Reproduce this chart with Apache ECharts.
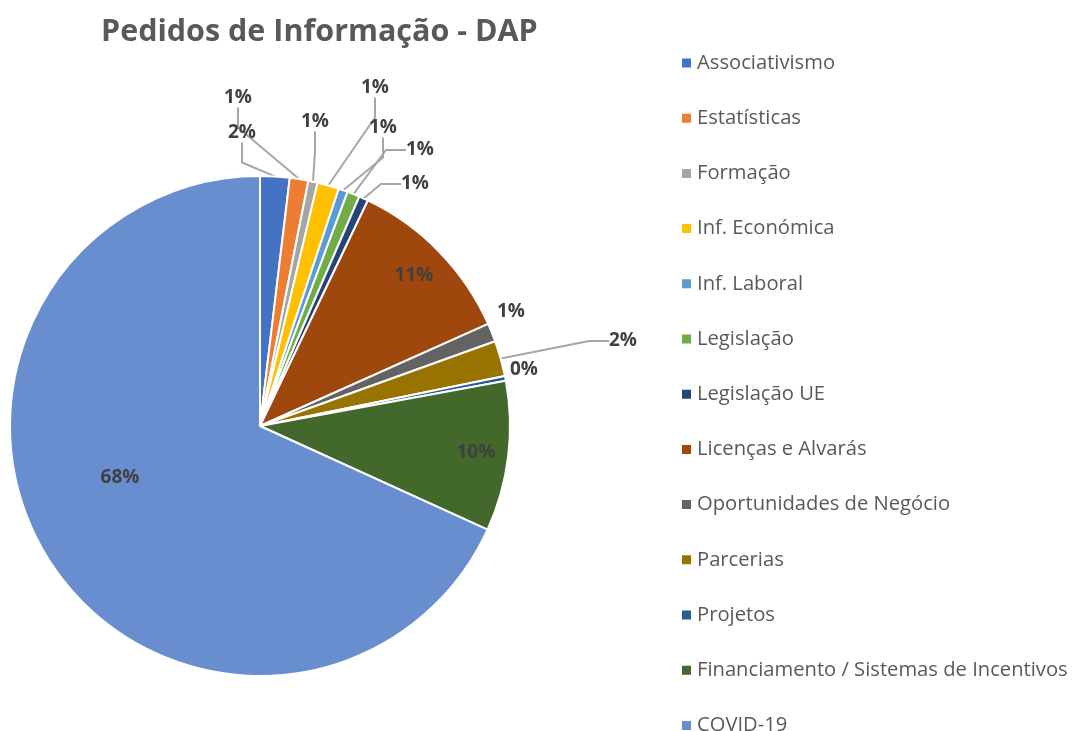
<!DOCTYPE html>
<html>
<head>
<meta charset="utf-8">
<script src="https://cdn.jsdelivr.net/npm/echarts@6/dist/echarts.min.js"></script>
<style>
  html, body { margin: 0; padding: 0; background: #fff; }
  #chart { width: 1077px; height: 731px; }
</style>
</head>
<body>
<div id="chart"></div>
<script>
// categorias e percentagens
const categories = [
  'Associativismo', 'Estatísticas', 'Formação', 'Inf. Económica', 'Inf. Laboral',
  'Legislação', 'Legislação UE', 'Licenças e Alvarás', 'Oportunidades de Negócio',
  'Parcerias', 'Projetos', 'Financiamento / Sistemas de Incentivos', 'COVID-19'
]
const values = [1.9, 1.2, 0.6, 1.4, 0.6, 0.8, 0.6, 11.2, 1.2, 2.3, 0.3, 9.7, 68.2]
const colors = [
  '#4472C4', '#ED7D31', '#A5A5A5', '#FFC000', '#5B9BD5', '#70AD47', '#264478',
  '#9E480E', '#636363', '#997300', '#255E91', '#43682B', '#698ED0'
]

const center = [260, 426]
const radius = 250
// etiquetas dentro da fatia: raio relativo
const insideRatio = { 7: 0.86, 11: 0.87 }
// posição das etiquetas (como no Excel)
const labelSpot = {
  0: [242, 133], 1: [238, 98], 2: [315, 122], 3: [375, 88], 4: [383, 128],
  5: [420, 150], 6: [415, 184], 8: [511, 312], 9: [623, 341], 10: [524, 370],
  12: [120, 478]
}
const noLine = [8, 10]

const chart = echarts.init(document.getElementById('chart'))
const total = values.reduce((a, b) => a + b, 0)

const data = categories.map((name, i) => {
  let item = { name: name, value: values[i] }
  if (insideRatio[i] !== undefined || i === 12) {
    item.label = { position: 'inside' }
  }
  if (noLine.indexOf(i) >= 0) {
    item.labelLine = { show: false }
  }
  return item
})

const option = {
  color: colors,
  title: {
    text: 'Pedidos de Informação - DAP',
    left: 96,
    top: 12,
    textStyle: {
      fontFamily: 'Open Sans',
      fontSize: 30.5,
      fontWeight: 'bold',
      color: '#595959'
    }
  },
  legend: {
    orient: 'vertical',
    left: 680,
    top: 53,
    height: 700,
    padding: 0,
    itemWidth: 11,
    itemHeight: 11,
    itemGap: 35.2,
    icon: 'rect',
    textStyle: {
      fontFamily: 'Open Sans',
      fontSize: 20.2,
      color: '#595959'
    }
  },
  series: [{
    type: 'pie',
    center: center,
    radius: radius,
    startAngle: 90,
    clockwise: true,
    avoidLabelOverlap: false,
    itemStyle: {
      borderColor: '#fff',
      borderWidth: 2
    },
    label: {
      show: true,
      formatter: (p) => Math.round(p.value / total * 100) + '%',
      fontFamily: 'Open Sans',
      fontSize: 19,
      fontWeight: 'bold',
      color: '#404040'
    },
    labelLine: {
      show: true,
      length: 25,
      length2: 20,
      lineStyle: { color: '#a6a6a6', width: 2 }
    },
    labelLayout: (params) => {
      const i = params.dataIndex
      if (labelSpot[i]) {
        return { x: labelSpot[i][0], y: labelSpot[i][1], align: 'center', verticalAlign: 'middle' }
      }
      const r = insideRatio[i]
      if (r === undefined) return {}
      const rect = params.labelRect
      const cx = rect.x + rect.width / 2 - center[0]
      const cy = rect.y + rect.height / 2 - center[1]
      const k = (r * radius) / Math.sqrt(cx * cx + cy * cy)
      return { dx: cx * (k - 1), dy: cy * (k - 1) }
    },
    data: data
  }]
}
chart.setOption(option)
</script>
</body>
</html>
